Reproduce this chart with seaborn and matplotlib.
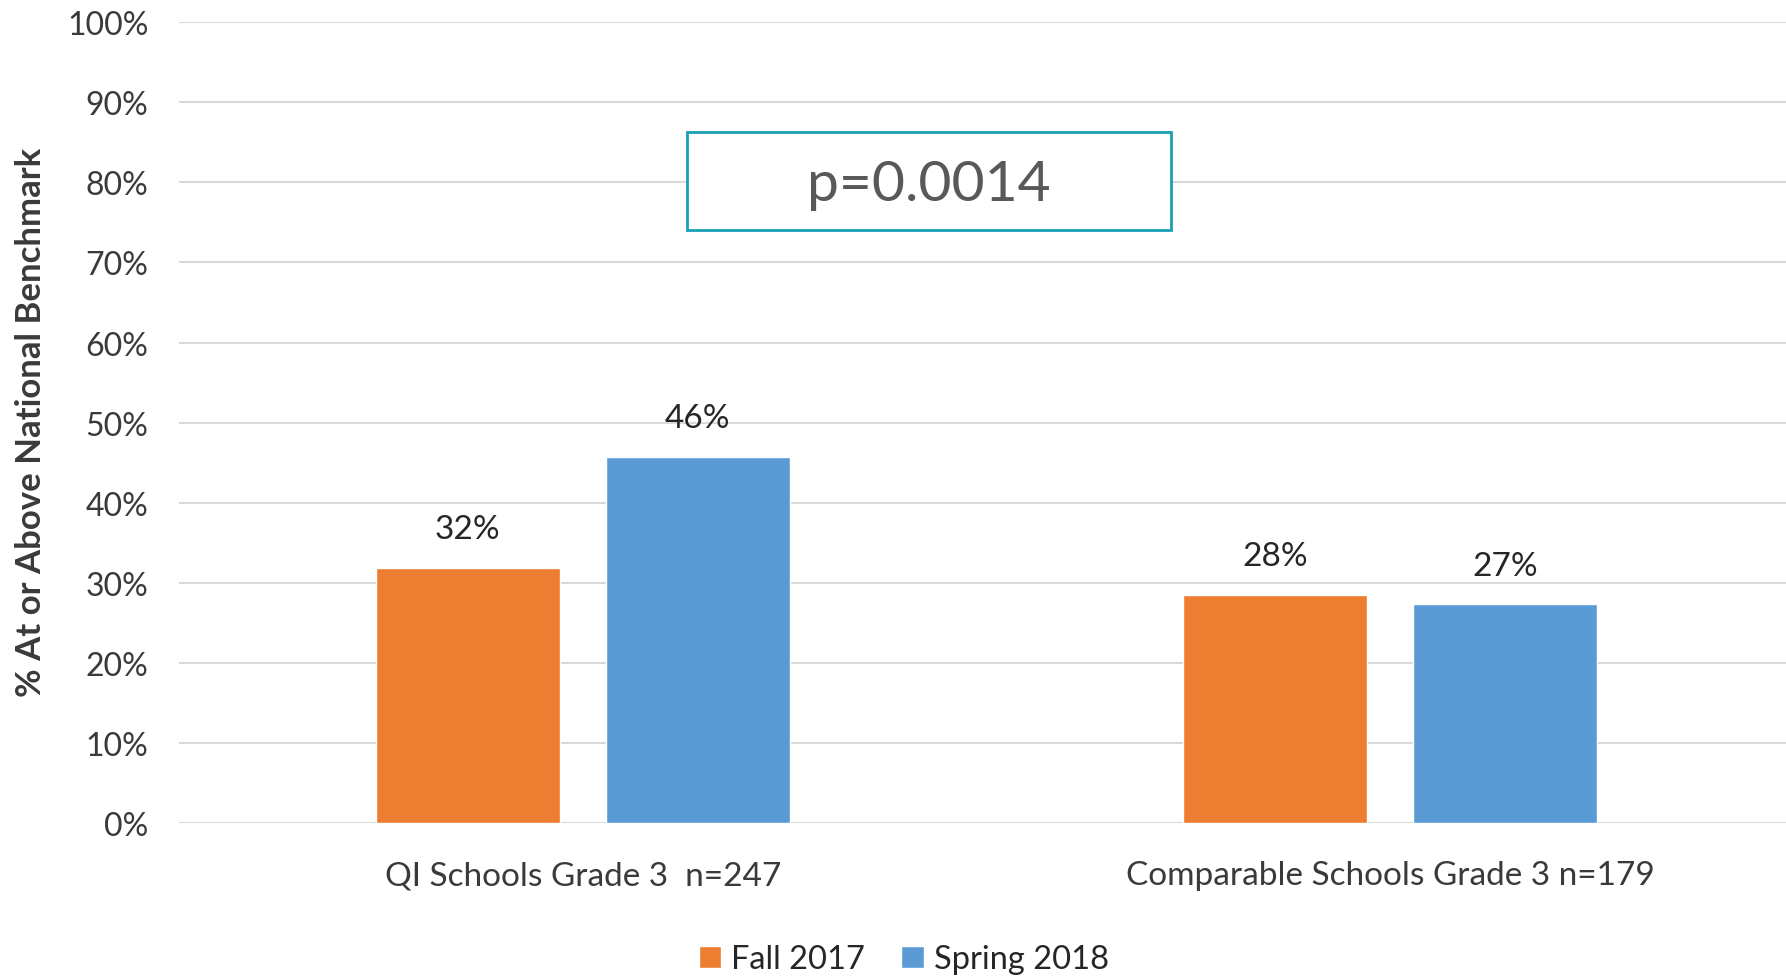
import pandas as pd
import matplotlib.pyplot as plt
import seaborn as sns
from matplotlib.patches import Rectangle

# Datos
grupos = ['QI Schools Grade 3  n=247', 'Comparable Schools Grade 3 n=179']
periodos = ['Fall 2017', 'Spring 2018']
fall_2017 = [31.9, 28.5]
spring_2018 = [45.7, 27.3]
etiquetas = [['32%', '28%'], ['46%', '27%']]
colores = ['#ED7D31', '#5B9BD5']

df = pd.DataFrame({
    'grupo': grupos * 2,
    'periodo': [periodos[0]] * 2 + [periodos[1]] * 2,
    'valor': fall_2017 + spring_2018,
})

sns.set_style('white')
plt.rcParams['font.family'] = ['Lato', 'DejaVu Sans']

fig = plt.figure(figsize=(17.86, 9.78), dpi=100)
ax = fig.add_axes([0.1002, 0.1575, 0.8998, 0.8187])

sns.barplot(data=df, x='grupo', y='valor', hue='periodo', palette=colores,
            width=0.57, gap=0.2, saturation=1, ax=ax, legend=True)

ax.set_ylim(0, 100)
ax.set_xlim(-0.5, 1.49)
ax.set_yticks(range(0, 101, 10))
ax.set_yticklabels([f'{v}%' for v in range(0, 101, 10)])
ax.yaxis.grid(True, color='#D9D9D9', linewidth=1.5)
ax.set_axisbelow(True)
for s in ax.spines.values():
    s.set_visible(False)
ax.tick_params(axis='y', length=0, pad=22, labelsize=23, labelcolor='#3a3a3a')
ax.tick_params(axis='x', length=0, pad=27, labelsize=24, labelcolor='#3a3a3a')
ax.set_xlabel('')
ax.set_ylabel('% At or Above National Benchmark', fontsize=25, fontweight='bold',
              color='#3a3a3a')
ax.yaxis.set_label_coords(-0.082, 0.501)

# Etiquetas sobre las barras
for cont, labs in zip(ax.containers, etiquetas):
    ax.bar_label(cont, labels=labs, padding=17, fontsize=24, color='#262626')

# Cuadro del p-valor
ax.add_patch(Rectangle((0.316, 0.741), 0.301, 0.122, transform=ax.transAxes,
                       fill=True, facecolor='white', edgecolor='#1A9FB3',
                       linewidth=2, zorder=5))
ax.text(0.4666, 0.797, 'p=0.0014', transform=ax.transAxes, ha='center', va='center',
        fontsize=41, color='#595959', zorder=6)

# Leyenda abajo
h, l = ax.get_legend_handles_labels()
ax.get_legend().remove()
fig.legend(h, l, loc='center', bbox_to_anchor=(0.506, 0.018), ncol=2, frameon=False,
           fontsize=23.5, handlelength=0.7, handleheight=0.7, handletextpad=0.3,
           columnspacing=1.1, labelcolor='#262626')

plt.savefig('out.png', dpi=100)
